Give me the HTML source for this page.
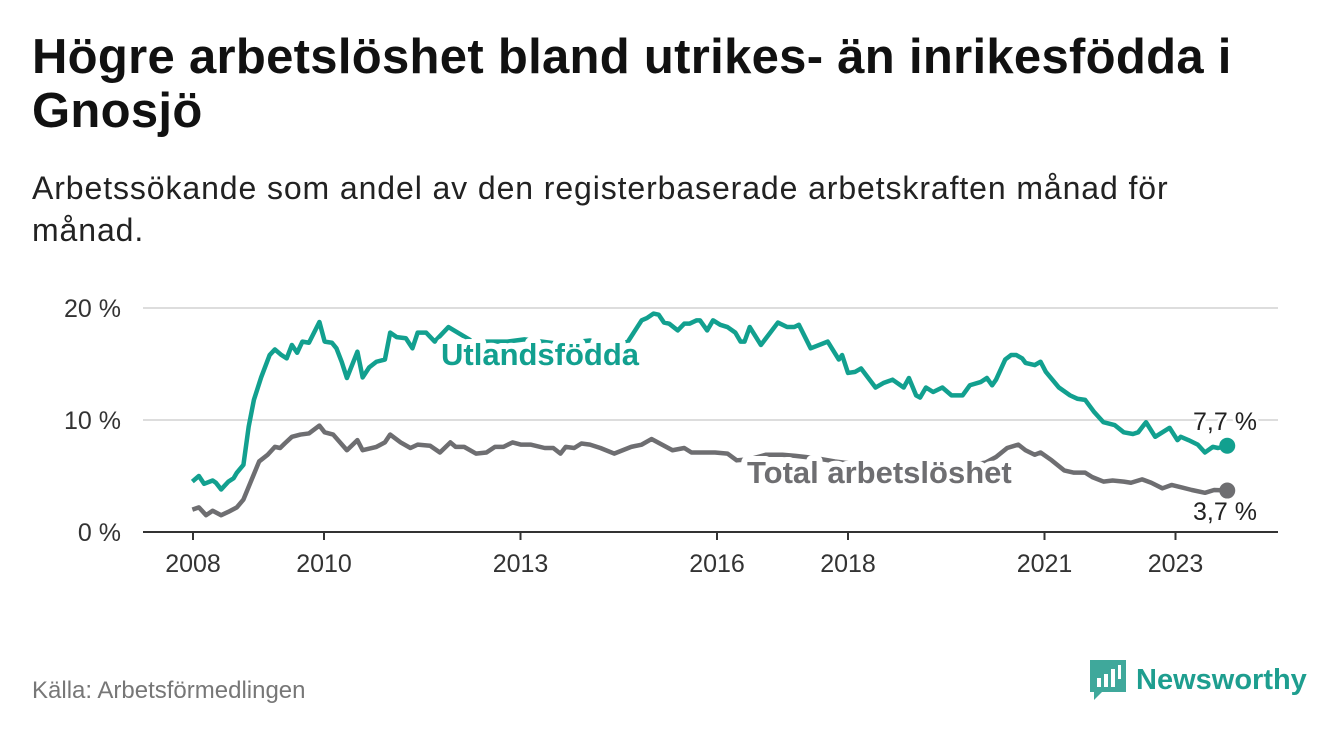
<!DOCTYPE html>
<html><head><meta charset="utf-8"><style>
body{margin:0;width:1340px;height:734px;background:#fff;font-family:"Liberation Sans",sans-serif;overflow:hidden;position:relative}
h1{position:absolute;left:32px;top:30px;margin:0;font-size:49px;line-height:54px;font-weight:bold;color:#111;width:1300px;white-space:nowrap;letter-spacing:0.3px}
.sub{position:absolute;left:32px;top:167px;font-size:32px;line-height:42px;color:#222;width:1300px;white-space:nowrap;letter-spacing:0.9px}
.src{position:absolute;left:32px;top:677px;font-size:24px;color:#777}
.logo{position:absolute;left:1090px;top:660px;display:flex;align-items:center}
.logo span{font-size:29px;font-weight:bold;color:#1e9e8f;margin-left:10px}
</style></head><body>
<h1>Högre arbetslöshet bland utrikes- än inrikesfödda i<br>Gnosjö</h1>
<div class="sub">Arbetssökande som andel av den registerbaserade arbetskraften månad för<br>månad.</div>
<svg id="chart" width="1340" height="734" style="position:absolute;left:0;top:0"></svg>
<div class="src">Källa: Arbetsförmedlingen</div>
<div class="logo">
<svg width="36" height="40" viewBox="0 0 36 40"><path d="M0 0H36V32H12L4 40V32H0Z" fill="#3fa89b"/><rect x="7" y="18" width="4" height="9" fill="#fff"/><rect x="14" y="14" width="4" height="13" fill="#fff"/><rect x="21" y="9" width="4" height="18" fill="#fff"/><rect x="28" y="5" width="3" height="14" fill="#fff"/></svg>
<span>Newsworthy</span></div>
<script>
const yTicks=[0,10,20];
const yTickLabels=["0 %","10 %","20 %"];
const xTicks=[2008,2010,2013,2016,2018,2021,2023];
const utlYears=[2007.99,2008.09,2008.17,2008.30,2008.35,2008.43,2008.54,2008.62,2008.67,2008.77,2008.85,2008.93,2009.04,2009.17,2009.25,2009.35,2009.43,2009.51,2009.59,2009.67,2009.77,2009.93,2010.01,2010.12,2010.19,2010.27,2010.35,2010.51,2010.59,2010.69,2010.80,2010.93,2011.01,2011.11,2011.25,2011.35,2011.43,2011.56,2011.69,2011.90,2012.27,2012.80,2013.06,2013.59,2014.06,2014.37,2014.64,2014.85,2014.93,2015.03,2015.11,2015.19,2015.27,2015.40,2015.50,2015.58,2015.69,2015.74,2015.85,2015.94,2016.05,2016.16,2016.28,2016.36,2016.42,2016.50,2016.67,2016.93,2017.07,2017.18,2017.25,2017.43,2017.69,2017.86,2017.91,2018.00,2018.11,2018.20,2018.42,2018.54,2018.68,2018.85,2018.93,2019.04,2019.10,2019.19,2019.30,2019.44,2019.58,2019.75,2019.86,2020.03,2020.12,2020.20,2020.26,2020.40,2020.49,2020.57,2020.66,2020.71,2020.85,2020.94,2021.02,2021.22,2021.39,2021.50,2021.62,2021.76,2021.90,2022.07,2022.21,2022.35,2022.43,2022.55,2022.69,2022.80,2022.91,2023.03,2023.08,2023.20,2023.34,2023.45,2023.57,2023.65,2023.79];
const utlValues=[4.5,5.0,4.3,4.6,4.4,3.8,4.5,4.8,5.3,6.0,9.4,11.8,13.8,15.8,16.3,15.8,15.5,16.7,16.0,17.0,16.9,18.75,17.0,16.9,16.4,15.2,13.75,16.1,13.8,14.7,15.2,15.4,17.8,17.4,17.3,16.4,17.8,17.8,17.0,18.3,17.0,17.0,17.2,16.8,17.1,16.5,17.0,18.9,19.1,19.5,19.4,18.7,18.6,18.0,18.6,18.6,18.9,18.9,18.0,18.9,18.5,18.3,17.8,17.0,17.0,18.3,16.7,18.7,18.3,18.3,18.5,16.4,17.0,15.4,15.8,14.2,14.3,14.6,12.9,13.3,13.6,12.9,13.75,12.2,12.0,12.9,12.5,12.9,12.2,12.2,13.1,13.4,13.75,13.1,13.6,15.4,15.8,15.8,15.5,15.1,14.9,15.2,14.3,12.9,12.2,11.9,11.8,10.7,9.8,9.55,8.9,8.75,8.9,9.8,8.5,8.9,9.3,8.2,8.5,8.2,7.8,7.1,7.6,7.5,7.7];
const totYears=[2007.99,2008.09,2008.20,2008.30,2008.43,2008.54,2008.67,2008.77,2009.01,2009.14,2009.25,2009.33,2009.40,2009.51,2009.64,2009.77,2009.93,2010.01,2010.14,2010.35,2010.51,2010.59,2010.80,2010.93,2011.01,2011.17,2011.32,2011.43,2011.62,2011.77,2011.93,2012.01,2012.14,2012.32,2012.48,2012.61,2012.74,2012.88,2013.01,2013.16,2013.37,2013.50,2013.61,2013.69,2013.82,2013.93,2014.06,2014.22,2014.43,2014.69,2014.85,2015.00,2015.16,2015.32,2015.50,2015.61,2015.85,2015.97,2016.16,2016.30,2016.50,2016.75,2017.00,2017.20,2017.50,2017.80,2018.20,2018.60,2019.00,2019.40,2019.80,2020.10,2020.26,2020.43,2020.60,2020.71,2020.85,2020.94,2021.11,2021.30,2021.45,2021.62,2021.73,2021.90,2022.04,2022.21,2022.32,2022.49,2022.63,2022.80,2022.94,2023.08,2023.25,2023.45,2023.59,2023.79];
const totValues=[2.0,2.2,1.5,1.9,1.5,1.8,2.2,2.9,6.3,6.9,7.6,7.5,7.9,8.5,8.7,8.8,9.5,8.9,8.7,7.3,8.2,7.3,7.6,8.0,8.7,8.0,7.5,7.8,7.7,7.1,8.0,7.6,7.6,7.0,7.1,7.6,7.6,8.0,7.8,7.8,7.5,7.5,7.0,7.6,7.5,7.9,7.8,7.5,7.0,7.6,7.8,8.3,7.8,7.3,7.5,7.1,7.1,7.1,7.0,6.4,6.5,6.9,6.9,6.8,6.6,6.3,6.0,5.8,5.7,5.8,5.9,6.2,6.7,7.5,7.8,7.3,6.9,7.1,6.4,5.5,5.3,5.3,4.9,4.5,4.6,4.5,4.4,4.7,4.4,3.9,4.2,4.0,3.75,3.5,3.75,3.7];
const NS="http://www.w3.org/2000/svg",svg=document.getElementById('chart');
const X=v=>193+(v-2008)*65.5, Y=v=>532-v*11.2;
function mk(t,a,p){const e=document.createElementNS(NS,t);for(const k in a)e.setAttribute(k,a[k]);(p||svg).appendChild(e);return e;}
yTicks.forEach((t,i)=>{
 const g=mk('line',{x1:143,x2:1278,y1:Y(t),y2:Y(t),stroke:t===0?'#333':'#ddd','stroke-width':2});
 
 
 const l=mk('text',{x:121,y:Y(t)+9,'text-anchor':'end','font-size':25,fill:'#333'});l.textContent=yTickLabels[i];
 
 
});
xTicks.forEach(t=>{
 mk('line',{x1:X(t),x2:X(t),y1:532,y2:540,stroke:'#333','stroke-width':2});
 const l=mk('text',{x:X(t),y:572,'text-anchor':'middle','font-size':25,fill:'#333'});l.textContent=t;
 
 
});
function series(xs,vs,col,name){
 const p=mk('polyline',{points:xs.map((x,i)=>X(x)+','+Y(vs[i])).join(' '),fill:'none',stroke:col,'stroke-width':4.5,'stroke-linejoin':'round'});
 
 
 const n=xs.length-1;
 const c=mk('circle',{cx:X(xs[n]),cy:Y(vs[n]),r:8,fill:col});
 
 
}
series(totYears,totValues,'#6e6e71','total');
series(utlYears,utlValues,'#12a08f','utlandsfodda');
function lbl(x,y,txt,col,name,size,bold){
 const t=mk('text',{x:x,y:y,'font-size':size,'font-weight':bold?'bold':'normal',fill:col,stroke:'#fff','stroke-width':bold?12:6,'paint-order':'stroke','stroke-linejoin':'round'});t.textContent=txt;
 
 
}
lbl(441,365,'Utlandsfödda','#12a08f','utlandsfodda-label',31,true);
lbl(747,483,'Total arbetslöshet','#6e6e71','total-label',31,true);
lbl(1193,430,'7,7 %','#222','utlandsfodda-value',25,false);
lbl(1193,520,'3,7 %','#222','total-value',25,false);
</script>
</body></html>
